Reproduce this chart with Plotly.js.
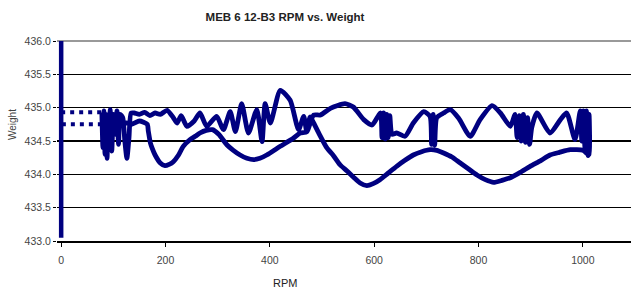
<!DOCTYPE html>
<html>
<head>
<meta charset="utf-8">
<script src="https://cdn.plot.ly/plotly-3.0.1.min.js"></script>
<style>html,body{margin:0;padding:0;background:#fff;}#chart{width:631px;height:289px;}</style>
</head>
<body>
<div id="chart"></div>
<script>
// ---- data ----
const chartTitle = "MEB 6 12-B3 RPM vs. Weight";
const xTitle = "RPM";
const yTitle = "Weight";
const xTickVals = [0, 200, 400, 600, 800, 1000];
const yTickVals = [433.0, 433.5, 434.0, 434.5, 435.0, 435.5, 436.0];

// weight swing while stationary (RPM 0)
const zeroRpm = [0, 0, 0, 0];
const zeroWeight = [436.0, 435.6, 433.6, 433.05];

// sparse ramp segments (drawn dotted)
const rampUpRpm = [0, 78];
const rampUpWeight = [434.93, 434.93];
const rampDownRpm = [78, 0];
const rampDownWeight = [434.75, 434.75];

// run-up (upper band) then run-down (lower path)
const runRpm = [
  78, 80, 82, 84, 86, 88, 90, 92, 94, 97, 100, 104, 107, 110, 113, 118, 122, 126, 130, 134,
  140, 150, 160, 170, 180, 190, 203, 215, 222, 230, 241, 255, 266, 279, 298, 311, 324, 334,
  346, 359, 375, 385, 391, 401, 420, 439, 455, 465, 471, 484, 497, 516, 544, 560, 580, 596,
  612, 615, 618, 621, 624, 627, 630, 634, 643, 659, 675, 695, 707, 710, 713, 716, 720, 733,
  746, 762, 784, 803, 826, 842, 861, 870, 874, 878, 882, 886, 890, 894, 898, 902, 912, 937,
  957, 969, 985, 995, 998, 1001, 1004, 1007, 1010, 1012, 1012,
  1010, 1000, 976, 955, 937, 920, 899, 880, 861, 845, 829, 813, 797, 781, 765, 749, 733, 720,
  707, 691, 675, 659, 643, 627, 611, 598, 586, 573, 560, 548, 535, 522, 509, 495, 482, 477,
  471, 458, 445, 420, 394, 381, 369, 356, 343, 330, 318, 302, 290, 278, 266, 257, 247, 234,
  225, 215, 207, 199, 190, 180, 174, 171, 167, 165, 150, 135, 120, 100, 78
];
const runWeight = [
  434.93, 434.40, 434.95, 434.30, 434.90, 434.24, 434.85, 434.45, 434.97, 434.35, 434.90, 434.60, 434.95, 434.45, 434.90, 434.85, 434.50, 434.24, 434.55, 434.92,
  434.92, 434.90, 434.93, 434.88, 434.92, 434.90, 434.96, 434.85, 434.77, 434.88, 434.72, 434.80, 434.92, 434.72, 434.87, 434.67, 434.94, 434.64,
  435.06, 434.62, 434.97, 434.49, 435.06, 434.77, 435.26, 435.11, 434.67, 434.87, 434.64, 434.89, 434.89, 434.99, 435.06, 435.01, 434.82, 434.74,
  434.92, 434.55, 434.92, 434.53, 434.90, 434.55, 434.88, 434.60, 434.62, 434.57, 434.77, 434.94, 434.87, 434.45, 434.90, 434.44, 434.85, 434.92,
  434.97, 434.84, 434.57, 434.82, 435.03, 434.92, 434.72, 434.90, 434.55, 434.88, 434.50, 434.90, 434.48, 434.85, 434.45, 434.70, 434.92, 434.62,
  434.82, 434.92, 434.52, 434.95, 434.50, 434.95, 434.40, 434.95, 434.28, 434.90, 434.30,
  434.30, 434.36, 434.37, 434.33, 434.29, 434.21, 434.12, 434.03, 433.95, 433.91, 433.88, 433.92, 433.99, 434.08, 434.17, 434.26, 434.32, 434.36,
  434.37, 434.34, 434.29, 434.21, 434.12, 434.02, 433.92, 433.86, 433.83, 433.87, 433.96, 434.05, 434.14, 434.28, 434.40, 434.60, 434.80, 434.86,
  434.64, 434.62, 434.54, 434.42, 434.29, 434.24, 434.22, 434.24, 434.29, 434.36, 434.44, 434.60, 434.67, 434.66, 434.62, 434.57, 434.52, 434.42,
  434.29, 434.19, 434.15, 434.13, 434.17, 434.29, 434.40, 434.47, 434.65, 434.75, 434.80, 434.75, 434.78, 434.75, 434.75
];

const navy = "#000080";
const traces = [
  {x: zeroRpm, y: zeroWeight, mode: "lines", line: {color: navy, width: 4.5}},
  {x: rampUpRpm, y: rampUpWeight, mode: "lines", line: {color: navy, width: 4, dash: "4px,5px"}},
  {x: rampDownRpm, y: rampDownWeight, mode: "lines", line: {color: navy, width: 4, dash: "4px,5px"}},
  {x: runRpm, y: runWeight, mode: "lines", line: {color: navy, width: 4.8, shape: "spline", smoothing: 0.6}}
];

const font = "'Liberation Sans', Arial, sans-serif";
const layout = {
  width: 631, height: 289,
  margin: {l: 57, r: 0, t: 41, b: 48},
  paper_bgcolor: "#fff", plot_bgcolor: "#fff",
  showlegend: false,
  font: {family: font, size: 10.5, color: "#444"},
  title: {text: "<b>" + chartTitle + "</b>", font: {family: font, size: 11.5, color: "#222"},
          xref: "container", yref: "container", x: 285 / 631, y: 1 - 17 / 289, xanchor: "center", yanchor: "middle"},
  xaxis: {
    range: [-8, 1092.3], tickvals: xTickVals, ticktext: xTickVals.map(String),
    showgrid: false, zeroline: false, showline: true, linecolor: "#000", linewidth: 1.6,
    ticks: "outside", ticklen: 4, tickcolor: "#000", tickwidth: 1,
    ticklabelstandoff: 5, tickfont: {family: font, size: 10.5, color: "#444"}
  },
  yaxis: {
    range: [433, 436], tickvals: yTickVals, ticktext: yTickVals.map(v => v.toFixed(1)),
    showgrid: true, gridcolor: "#000", gridwidth: 1.6, zeroline: false, showline: false,
    ticks: "outside", ticklen: 3, tickcolor: "#000",
    tickfont: {family: font, size: 10.5, color: "#444"}
  },
  shapes: [
    {type: "line", xref: "paper", yref: "paper", x0: 0, x1: 1, y0: 1, y1: 1,
     line: {color: "#777", width: 1.4}, layer: "below"}
  ],
  annotations: [
    {text: xTitle, xref: "paper", yref: "paper", x: (285 - 57) / 574, y: (241 - 283) / 200,
     showarrow: false, xanchor: "center", yanchor: "middle", font: {family: font, size: 11, color: "#222"}},
    {text: yTitle, xref: "paper", yref: "paper", x: (12 - 57) / 574, y: (241 - 125) / 200,
     showarrow: false, textangle: -90, xanchor: "center", yanchor: "middle", font: {family: font, size: 10, color: "#444"}}
  ]
};

Plotly.newPlot("chart", traces, layout, {staticPlot: true, displayModeBar: false});
</script>
</body>
</html>
